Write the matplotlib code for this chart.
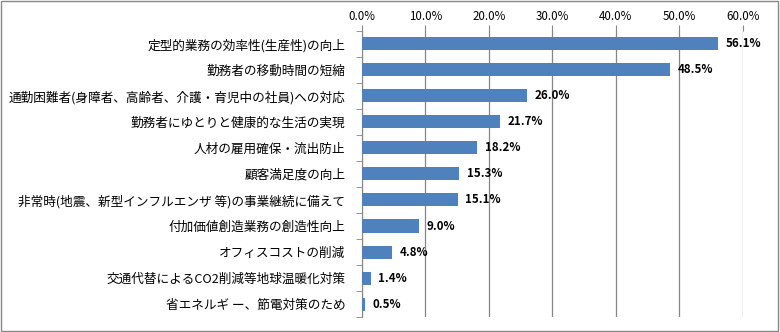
import matplotlib
matplotlib.use('Agg')
import matplotlib.pyplot as plt
from matplotlib.ticker import FuncFormatter

plt.rcParams['font.family'] = ['Noto Sans CJK JP', 'DejaVu Sans']

# data (top to bottom)
categories = ['定型的業務の効率性(生産性)の向上',
              '勤務者の移動時間の短縮',
              '通勤困難者(身障者、高齢者、介護・育児中の社員)への対応',
              '勤務者にゆとりと健康的な生活の実現',
              '人材の雇用確保・流出防止',
              '顧客満足度の向上',
              '非常時(地震、新型インフルエンザ 等)の事業継続に備えて',
              '付加価値創造業務の創造性向上',
              'オフィスコストの削減',
              '交通代替によるCO2削減等地球温暖化対策',
              '省エネルギ ー、節電対策のため']
values = [56.1, 48.5, 26.0, 21.7, 18.2, 15.3, 15.1, 9.0, 4.8, 1.4, 0.5]
xticks = [0, 10, 20, 30, 40, 50, 60]

bar_color = '#4F81BD'
grid_color = '#868686'

fig = plt.figure(figsize=(7.8, 3.32), dpi=100)
ax = fig.add_axes([0.464, 0.045, 0.4885, 0.862])

ypos = list(range(len(categories)))
ax.barh(ypos, values, height=0.5, color=bar_color, zorder=3)
for y, v in zip(ypos, values):
    ax.text(v + 1.2, y, '%.1f%%' % v, va='center', ha='left',
            fontsize=8.3, fontweight='bold', color='black', zorder=4)

ax.set_xlim(0, 60)
ax.set_ylim(len(categories) - 0.5, -0.5)
ax.set_xticks(xticks)
ax.xaxis.set_major_formatter(FuncFormatter(lambda x, p: '%.1f%%' % x))
ax.xaxis.tick_top()
ax.tick_params(axis='x', length=4, color=grid_color, labelsize=8.3, pad=2)
ax.grid(axis='x', color=grid_color, linewidth=0.9, zorder=0)

# category labels, ticks between categories
ax.set_yticks(ypos)
ax.set_yticklabels(categories, fontsize=9.1)
ax.tick_params(axis='y', length=0, pad=12)
ax.set_yticks([y - 0.5 for y in ypos] + [len(categories) - 0.5], minor=True)
ax.tick_params(axis='y', which='minor', length=4, color=grid_color)

for s in ['top', 'right', 'bottom']:
    ax.spines[s].set_visible(False)
ax.spines['left'].set_color(grid_color)

# outer border
fig.patches.append(plt.Rectangle((0.001, 0.002), 0.997, 0.995, transform=fig.transFigure,
                                 fill=False, edgecolor='#888888', linewidth=1))

fig.savefig('out.png', dpi=100)
